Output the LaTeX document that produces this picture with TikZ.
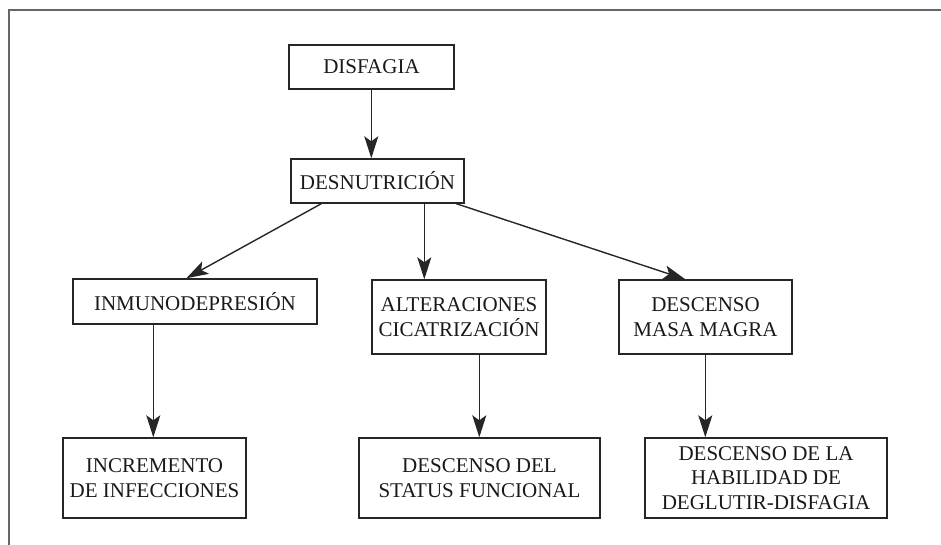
\documentclass[tikz,border=0pt]{standalone}
\usepackage{fontspec}
\setmainfont{Liberation Serif}
\usetikzlibrary{arrows.meta}
\begin{document}
\begin{tikzpicture}[x=1pt,y=-1pt,
  box/.style={draw=black!85, line width=1.4pt, rectangle, inner sep=0pt, align=center,
    font=\fontsize{21}{24.5}\selectfont, text=black!90},
  arr/.style={draw=black!85, line width=1.4pt, -{Stealth[length=22pt,width=14pt,inset=5pt]}},
  frame/.style={draw=black!60, line width=2pt}]
\useasboundingbox (0,0) rectangle (941,545);
\coordinate (f1) at (9,545);
\coordinate (f2) at (9,10);
\coordinate (f3) at (941,10);
\draw[frame] (f1) -- (f2) -- (f3);

\node[box, minimum width=165pt, minimum height=44pt] (dis) at (371.5,67) {DISFAGIA};
\node[box, minimum width=173pt, minimum height=44pt] (desn) at (377.5,181) {DESNUTRICIÓN};
\node[box, minimum width=244pt, minimum height=45pt] (inm) at (195,301.5) {INMUNODEPRESIÓN};
\node[box, minimum width=174pt, minimum height=74pt] (alt) at (459,317) {ALTERACIONES\\CICATRIZACIÓN};
\node[box, minimum width=173pt, minimum height=74pt] (masa) at (705.5,317) {DESCENSO\\MASA MAGRA};
\node[box, minimum width=183pt, minimum height=80pt] (inc) at (154.5,478) {INCREMENTO\\DE INFECCIONES};
\node[box, minimum width=241pt, minimum height=80pt] (stat) at (479.5,478) {DESCENSO DEL\\STATUS FUNCIONAL};
\node[box, minimum width=242pt, minimum height=80pt] (hab) at (766,478) {DESCENSO DE LA\\HABILIDAD DE\\DEGLUTIR-DISFAGIA};

\draw[arr] ([xshift=83pt]dis.south west) -- ([xshift=81pt]desn.north west);
\draw[arr] ([xshift=31pt]desn.south west) -- ([xshift=114pt]inm.north west);
\draw[arr] ([xshift=134pt]desn.south west) -- ([xshift=53pt]alt.north west);
\draw[arr] ([xshift=166pt]desn.south west) -- ([xshift=67pt]masa.north west);
\draw[arr] ([xshift=81pt]inm.south west) -- ([xshift=91pt]inc.north west);
\draw[arr] ([xshift=108pt]alt.south west) -- ([xshift=121pt]stat.north west);
\draw[arr] ([xshift=87pt]masa.south west) -- ([xshift=61pt]hab.north west);
\end{tikzpicture}
\end{document}
